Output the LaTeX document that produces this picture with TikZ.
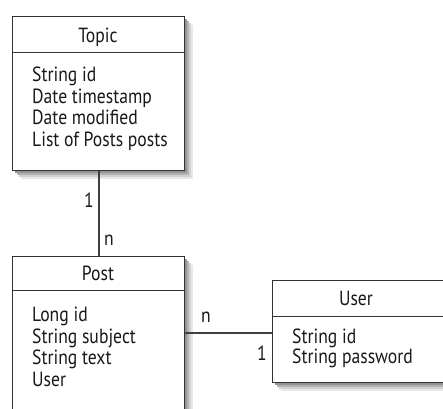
\documentclass[tikz,border=0pt]{standalone}
\usepackage{fontspec}
\setmainfont[FakeStretch=0.86]{PT Sans}
\usetikzlibrary{shadows}
\begin{document}
\begin{tikzpicture}[x=1pt,y=-1pt,
  boxline/.style={draw=black!80, line width=1.4pt},
  shadowed/.style={
    general shadow={shadow xshift=8pt, shadow yshift=-8pt, shadow scale=1, fill=black!9},
    general shadow={shadow xshift=6pt, shadow yshift=-6pt, shadow scale=1, fill=black!18},
    general shadow={shadow xshift=4pt, shadow yshift=-4pt, shadow scale=1, fill=black!30},
    general shadow={shadow xshift=2pt, shadow yshift=-2pt, shadow scale=1, fill=black!42}},
  hdr/.style={boxline, fill=white, inner sep=0pt, anchor=north west},
  title/.style={font=\fontsize{20.5}{22}\selectfont, text=black!90, inner sep=0pt, anchor=base},
  body/.style={font=\fontsize{20.5}{22}\selectfont, text=black!90, inner sep=0pt, anchor=base west},
  lbl/.style={font=\fontsize{20.5}{22}\selectfont, text=black!90, inner sep=0pt, anchor=base},
  conn/.style={draw=black!75, line width=1.2pt}]
\useasboundingbox (0,0) rectangle (443,408);
% Topic (outer box carries the shadow)
\node[hdr, shadowed, minimum width=172pt, minimum height=154pt] (topicbox) at (12,16) {};
\node[hdr, minimum width=172pt, minimum height=36pt] (topich) at (12,16) {};
\node[title] (topict) at (98,42) {Topic};
\foreach \t [count=\i] in {String id, Date timestamp, Date modified, List of Posts posts}
  \node[body] (topic\i) at (32,{81.5+21.7*(\i-1)}) {\t};
% Post
\node[hdr, shadowed, minimum width=172pt, minimum height=194pt] (postbox) at (12,256) {};
\node[hdr, minimum width=172pt, minimum height=34pt] (posth) at (12,256) {};
\node[title] (postt) at (98,280) {Post};
\foreach \t [count=\i] in {Long id, String subject, String text, User}
  \node[body] (post\i) at (32,{321.5+21.7*(\i-1)}) {\t};
% User
\node[hdr, shadowed, minimum width=200pt, minimum height=102pt] (userbox) at (272,280) {};
\node[hdr, minimum width=200pt, minimum height=36pt] (userh) at (272,280) {};
\node[title] (usert) at (356,305) {User};
\node[body] (user1) at (292,343) {String id};
\node[body] (user2) at (292,363.5) {String password};
% connectors
\coordinate (c1) at (99,170);
\coordinate (c2) at (99,256);
\draw[conn] (topicbox.south -| c1) -- (postbox.north -| c2);
\coordinate (c3) at (184,333);
\draw[conn] (c3) -- (c3 -| userbox.west);
\node[lbl] (l1) at (89,207) {1};
\node[lbl] (ln1) at (109,245) {n};
\node[lbl] (ln2) at (206,322) {n};
\node[lbl] (l2) at (262,360) {1};
\end{tikzpicture}
\end{document}
